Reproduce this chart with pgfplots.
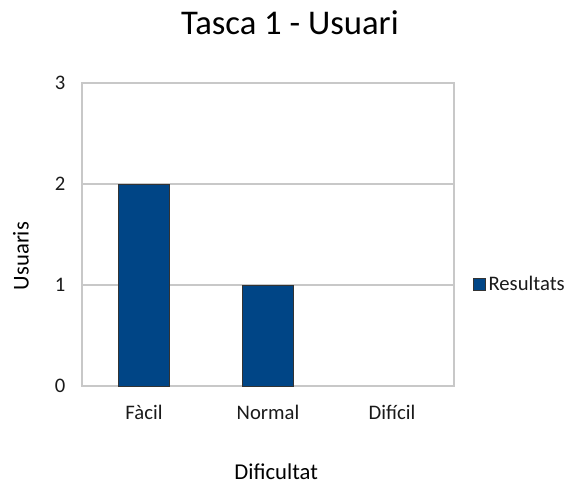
\documentclass[border=0pt]{standalone}
\usepackage{fontspec}
\setmainfont{Carlito}
\usepackage{pgfplots}
\pgfplotsset{compat=1.18}
\definecolor{barblue}{HTML}{004586}
\definecolor{framegray}{HTML}{C8C8C8}
\definecolor{txt}{HTML}{1A1A1A}

\begin{document}
\begin{tikzpicture}
\begin{axis}[
    at={(0,0)},
    scale only axis,
    width=279pt, height=227.25pt,
    ybar, bar width=38pt,
    xmin=-0.5, xmax=2.5,
    ymin=0, ymax=3,
    xtick={0,1,2},
    xticklabels={Fàcil,Normal,Difícil},
    ytick={0,1,2,3},
    major tick length=0pt,
    axis line style={framegray, line width=0.9pt},
    ymajorgrids,
    grid style={framegray, line width=0.9pt},
    /pgf/number format/assume math mode=true,
    ticklabel style={font=\fontsize{15.5}{18}\selectfont, text=txt},
    yticklabel style={xshift=-9pt},
    xticklabel style={yshift=-10.5pt},
    title={Tasca 1 - Usuari},
    title style={at={(rel axis cs:0.559,1.172)}, anchor=center, font=\fontsize{26}{30}\selectfont, text=black},
    xlabel={Dificultat},
    xlabel style={at={(rel axis cs:0.522,-0.284)}, anchor=center, font=\fontsize{17}{20}\selectfont, text=black},
    ylabel={Usuaris},
    ylabel style={at={(rel axis cs:-0.164,0.429)}, anchor=center, rotate=0, font=\fontsize{17}{20}\selectfont, text=black},
    legend style={at={(rel axis cs:1.051,0.337)}, anchor=west, draw=none, inner sep=0pt,
        font=\fontsize{15.5}{18}\selectfont, text=txt},
    legend image code/.code={\draw[fill=barblue, draw=black!80, line width=0.5pt] (0pt,-4.5pt) rectangle (9pt,4.5pt);},
]
% Difícil = 0, no bar drawn
\addplot[fill=barblue, draw=black!80, line width=0.6pt] coordinates {(0,2) (1,1)};
\addlegendentry{Resultats}
\end{axis}
\pgfresetboundingbox
\path (-61.5pt,-74.25pt) rectangle (366.75pt,289.5pt);
\end{tikzpicture}
\end{document}
